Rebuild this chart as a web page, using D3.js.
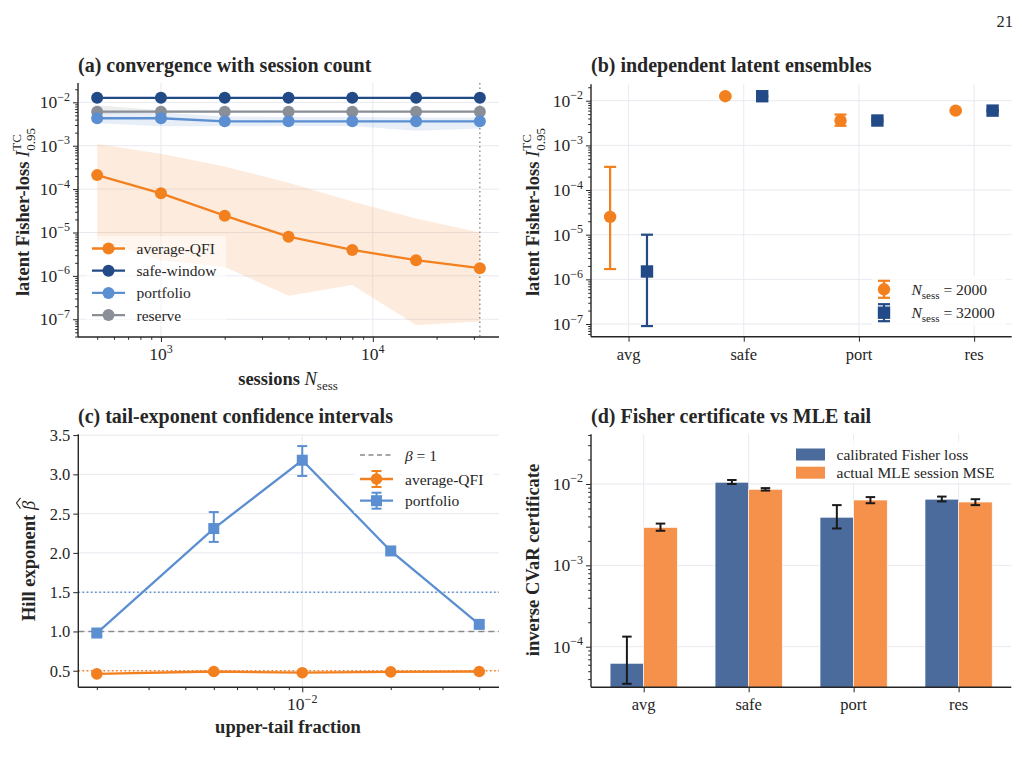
<!DOCTYPE html>
<html><head><meta charset="utf-8">
<script src="https://cdn.jsdelivr.net/npm/d3@7"></script>
<style>
body{margin:0;background:#fff}
svg{display:block}
text{font-family:"Liberation Serif","Times New Roman",serif;fill:#262626}
</style>
</head><body><svg id="chart" width="1022" height="771"></svg>
<script>
// ---------------- data ----------------
// (a) convergence with session count
const sessions = [500, 1000, 2000, 4000, 8000, 16000, 32000];
const avgQFI   = [2.1e-4, 8.0e-5, 2.44e-5, 8.0e-6, 3.95e-6, 2.3e-6, 1.5e-6];
const avgQFIHi = [1.1e-3, 6.5e-4, 3.3e-4, 1.4e-4, 5.2e-5, 2.1e-5, 1.0e-5];
const avgQFILo = [6.8e-6, 2.3e-6, 1.6e-6, 3.5e-7, 6.2e-7, 7.4e-8, 8.9e-8];
const safeWindow = [0.0127, 0.0127, 0.0127, 0.0127, 0.0127, 0.0127, 0.0127];
const portfolio  = [4.3e-3, 4.3e-3, 3.65e-3, 3.65e-3, 3.65e-3, 3.65e-3, 3.65e-3];
const portfolioHi = [6.0e-3, 5.8e-3, 4.7e-3, 4.6e-3, 4.6e-3, 4.5e-3, 4.5e-3];
const portfolioLo = [3.3e-3, 2.8e-3, 2.8e-3, 2.85e-3, 2.85e-3, 2.2e-3, 2.5e-3];
const reserve    = [6.1e-3, 6.1e-3, 6.1e-3, 6.1e-3, 6.1e-3, 6.1e-3, 6.1e-3];
const reserveHi  = [8.6e-3, 6.6e-3, 6.4e-3, 6.4e-3, 6.4e-3, 6.4e-3, 6.4e-3];
const reserveLo  = [5.3e-3, 5.7e-3, 5.8e-3, 5.8e-3, 5.8e-3, 5.8e-3, 5.8e-3];
const seriesNamesA = ["average-QFI", "safe-window", "portfolio", "reserve"];

// (b) independent latent ensembles
const ensembleCats = ["avg", "safe", "port", "res"];
const ens2000   = [2.5e-5, 0.0126, 3.6e-3, 6.0e-3];
const ens2000Lo = [1.7e-6, 0.0121, 2.75e-3, 5.7e-3];
const ens2000Hi = [3.3e-4, 0.0131, 4.9e-3, 6.3e-3];
const ens32000   = [1.5e-6, 0.0126, 3.6e-3, 6.0e-3];
const ens32000Lo = [9.0e-8, 0.0123, 3.4e-3, 5.8e-3];
const ens32000Hi = [1.0e-5, 0.0129, 3.8e-3, 6.2e-3];

// (c) tail-exponent confidence intervals
const tailFractions = [0.002, 0.005, 0.01, 0.02, 0.04];
const hillAvg   = [0.46, 0.49, 0.475, 0.485, 0.49];
const hillAvgLo = [0.44, 0.47, 0.455, 0.47, 0.475];
const hillAvgHi = [0.48, 0.51, 0.495, 0.50, 0.505];
const hillPort   = [0.98, 2.31, 3.18, 2.025, 1.09];
const hillPortLo = [0.94, 2.14, 2.98, 1.99, 1.05];
const hillPortHi = [1.02, 2.52, 3.36, 2.06, 1.13];
const hillTicks = [0.5, 1.0, 1.5, 2.0, 2.5, 3.0, 3.5];

// (d) Fisher certificate vs MLE tail
const certCats = ["avg", "safe", "port", "res"];
const fisherLoss = [6.25e-5, 0.0105, 3.9e-3, 6.5e-3];
const fisherLo   = [3.5e-5, 0.0100, 2.84e-3, 6.1e-3];
const fisherHi   = [1.33e-4, 0.0112, 5.5e-3, 7.0e-3];
const mleMSE = [2.92e-3, 8.6e-3, 6.35e-3, 6.0e-3];
const mleLo  = [2.66e-3, 8.3e-3, 5.8e-3, 5.5e-3];
const mleHi  = [3.26e-3, 8.9e-3, 6.9e-3, 6.5e-3];

// ---------------- style ----------------
const C = {
  orange: "#f3801f", dark: "#214a86", light: "#5b8fd1", grey: "#8a8e96",
  barBlue: "#4a6b9b", barOrange: "#f5914a", ink: "#262626", grid: "#e9e9f0"
};
const FS = { title: 20, label: 18.5, tick: 16.5, ten: 17.5, sup: 12, legend: 15.5 };
const svg = d3.select("#chart");
svg.append("rect").attr("width", 1022).attr("height", 771).attr("fill", "#fff");

svg.append("text").attr("x", 1013).attr("y", 27).attr("text-anchor", "end")
  .attr("font-size", 16.5).text("21");

// ---------------- helpers ----------------
function logMinors(scale) {
  const [lo, hi] = scale.domain().slice().sort((a, b) => a - b);
  const out = [];
  for (let e = Math.floor(Math.log10(lo)); e <= Math.ceil(Math.log10(hi)); e++)
    for (let m = 2; m <= 9; m++) { const v = m * Math.pow(10, e); if (v >= lo && v <= hi) out.push(v); }
  return out;
}
function sup10(sel, e) {
  sel.append("tspan").attr("font-size", FS.ten).text("10");
  sel.append("tspan").attr("dy", -7.5).attr("font-size", FS.sup).text(e < 0 ? "\u2212" + (-e) : String(e));
}
function styleAxis(g) {
  g.select(".domain").remove();
  g.selectAll(".tick line").attr("stroke", C.ink).attr("stroke-width", 1);
}
function spines(g, x0, x1, y0, y1) {
  g.append("line").attr("x1", x0).attr("x2", x0).attr("y1", y0).attr("y2", y1).attr("stroke", C.ink).attr("stroke-width", 1.4);
  g.append("line").attr("x1", x0).attr("x2", x1).attr("y1", y1).attr("y2", y1).attr("stroke", C.ink).attr("stroke-width", 1.4);
}
function title(x, y, t) {
  svg.append("text").attr("x", x).attr("y", y).attr("font-size", FS.title).attr("font-weight", "bold").text(t);
}
function logLeftAxis(g, y, x0, exps) {
  styleAxis(g.append("g").attr("transform", `translate(${x0},0)`)
    .call(d3.axisLeft(y).tickValues(logMinors(y)).tickSize(2.8).tickFormat("")));
  styleAxis(g.append("g").attr("transform", `translate(${x0},0)`)
    .call(d3.axisLeft(y).tickValues(exps.map(e => Math.pow(10, e))).tickSize(5).tickFormat("")));
  exps.forEach(e => {
    const t = g.append("text").attr("x", x0 - 8).attr("y", y(Math.pow(10, e)) + 6)
      .attr("text-anchor", "end");
    sup10(t, e);
  });
}
function gridH(g, y, vals, x0, x1) {
  g.selectAll(null).data(vals).enter().append("line")
    .attr("x1", x0).attr("x2", x1).attr("y1", d => y(d)).attr("y2", d => y(d))
    .attr("stroke", C.grid).attr("stroke-width", 1);
}
function gridV(g, x, vals, y0, y1) {
  g.selectAll(null).data(vals).enter().append("line")
    .attr("x1", d => x(d)).attr("x2", d => x(d)).attr("y1", y0).attr("y2", y1)
    .attr("stroke", C.grid).attr("stroke-width", 1);
}
function ylabelFisher(x, yc) {
  const t = svg.append("text").attr("transform", `translate(${x},${yc}) rotate(-90)`)
    .attr("text-anchor", "middle").attr("font-size", FS.label).attr("font-weight", "bold");
  t.append("tspan").text("latent Fisher-loss ");
  t.append("tspan").attr("font-style", "italic").attr("font-weight", "normal").text("I");
  t.append("tspan").attr("font-size", 13).attr("font-weight", "normal").attr("dy", -8.5).text("TC");
  t.append("tspan").attr("font-size", 13).attr("font-weight", "normal").attr("dx", -16.5).attr("dy", 14).text("0.95");
}
function errBar(g, x, yLo, yHi, cap, color, w) {
  g.append("line").attr("x1", x).attr("x2", x).attr("y1", yLo).attr("y2", yHi).attr("stroke", color).attr("stroke-width", w);
  [yLo, yHi].forEach(yy => g.append("line").attr("x1", x - cap / 2).attr("x2", x + cap / 2)
    .attr("y1", yy).attr("y2", yy).attr("stroke", color).attr("stroke-width", w));
}

// ================= Panel (a) =================
{
  const L = 78, R = 499, T = 83, B = 337;
  const x = d3.scaleLog().domain([406, 39400]).range([L, R]);
  const y = d3.scaleLog().domain([3.9e-8, 0.0279]).range([B, T]);
  const g = svg.append("g");
  title(78, 72, "(a) convergence with session count");
  gridH(g, y, [1e-7, 1e-6, 1e-5, 1e-4, 1e-3, 1e-2], L, R);
  gridV(g, x, [1e3, 1e4], T, B);

  const area = (hi, lo) => d3.area().x((d, i) => x(sessions[i])).y0((d, i) => y(lo[i])).y1((d, i) => y(hi[i]));
  g.append("path").datum(sessions).attr("d", area(avgQFIHi, avgQFILo)).attr("fill", C.orange).attr("opacity", 0.15);
  g.append("path").datum(sessions).attr("d", area(portfolioHi, portfolioLo)).attr("fill", C.light).attr("opacity", 0.15);
  g.append("path").datum(sessions).attr("d", area(reserveHi, reserveLo)).attr("fill", C.grey).attr("opacity", 0.15);

  g.append("line").attr("x1", x(32000)).attr("x2", x(32000)).attr("y1", T).attr("y2", B)
    .attr("stroke", "#777").attr("stroke-width", 1.2).attr("stroke-dasharray", "1.5,3");

  const series = [[avgQFI, C.orange], [safeWindow, C.dark], [portfolio, C.light], [reserve, C.grey]];
  const line = vals => d3.line().x((d, i) => x(sessions[i])).y((d, i) => y(vals[i]));
  [series[1], series[3], series[2], series[0]].forEach(([vals, col]) => {
    g.append("path").datum(sessions).attr("d", line(vals)).attr("fill", "none").attr("stroke", col).attr("stroke-width", 2.3);
    g.selectAll(null).data(vals).enter().append("circle")
      .attr("cx", (d, i) => x(sessions[i])).attr("cy", d => y(d)).attr("r", 6).attr("fill", col);
  });

  styleAxis(g.append("g").attr("transform", `translate(0,${B})`).call(d3.axisBottom(x).tickValues(logMinors(x)).tickSize(2.8).tickFormat("")));
  styleAxis(g.append("g").attr("transform", `translate(0,${B})`).call(d3.axisBottom(x).tickValues([1e3, 1e4]).tickSize(5).tickFormat("")));
  [3, 4].forEach(e => {
    const t = g.append("text").attr("x", x(Math.pow(10, e))).attr("y", B + 23).attr("text-anchor", "middle");
    sup10(t, e);
  });
  logLeftAxis(g, y, L, [-7, -6, -5, -4, -3, -2]);
  spines(g, L, R, T, B);

  // legend
  g.append("rect").attr("x", 86).attr("y", 236).attr("width", 140).attr("height", 90).attr("fill", "#fff").attr("opacity", 0.5);
  series.forEach(([vals, col], i) => {
    const yy = 248.5 + i * 22.2;
    g.append("line").attr("x1", 92).attr("x2", 125).attr("y1", yy).attr("y2", yy).attr("stroke", col).attr("stroke-width", 2.3);
    g.append("circle").attr("cx", 108.5).attr("cy", yy).attr("r", 6).attr("fill", col);
    g.append("text").attr("x", 136.5).attr("y", yy + 5.5).attr("font-size", FS.legend).text(seriesNamesA[i]);
  });

  const xl = svg.append("text").attr("x", 288).attr("y", 385).attr("text-anchor", "middle").attr("font-size", FS.label).attr("font-weight", "bold");
  xl.append("tspan").text("sessions ");
  xl.append("tspan").attr("font-style", "italic").attr("font-weight", "normal").text("N");
  xl.append("tspan").attr("font-size", 13).attr("font-weight", "normal").attr("dy", 4.5).text("sess");
  ylabelFisher(29, 212);
}

// ================= Panel (b) =================
{
  const L = 591, R = 1011.7, T = 84.3, B = 336.7;
  const x = d3.scaleLinear().domain([-0.326, 3.326]).range([L, R]);
  const y = d3.scaleLog().domain([5.2e-8, 0.0233]).range([B, T]);
  const g = svg.append("g");
  title(591, 72, "(b) independent latent ensembles");
  gridH(g, y, [1e-7, 1e-6, 1e-5, 1e-4, 1e-3, 1e-2], L, R);
  gridV(g, x, d3.range(ensembleCats.length), T, B);
  const off = 0.16;
  ensembleCats.forEach((c, i) => {
    const xo = x(i - off);
    errBar(g, xo, y(ens2000Lo[i]), y(ens2000Hi[i]), 12, C.orange, 2.2);
    g.append("circle").attr("cx", xo).attr("cy", y(ens2000[i])).attr("r", 6.2).attr("fill", C.orange);
    const xb = x(i + off);
    errBar(g, xb, y(ens32000Lo[i]), y(ens32000Hi[i]), 12, C.dark, 2.2);
    g.append("rect").attr("x", xb - 6.2).attr("y", y(ens32000[i]) - 6.2).attr("width", 12.4).attr("height", 12.4).attr("fill", C.dark);
  });
  styleAxis(g.append("g").attr("transform", `translate(0,${B})`).call(d3.axisBottom(x).tickValues(d3.range(4)).tickSize(5).tickFormat("")));
  ensembleCats.forEach((c, i) => g.append("text").attr("x", x(i)).attr("y", B + 23).attr("text-anchor", "middle").attr("font-size", FS.tick).text(c));
  logLeftAxis(g, y, L, [-7, -6, -5, -4, -3, -2]);
  spines(g, L, R, T, B);

  // legend
  g.append("rect").attr("x", 872).attr("y", 276).attr("width", 134).attr("height", 50).attr("fill", "#fff").attr("opacity", 0.8);
  [[289.3, C.orange, "2000", "c"], [312.7, C.dark, "32000", "s"]].forEach(([yy, col, n, m]) => {
    errBar(g, 884, yy - 8.5, yy + 8.5, 12, col, 2.2);
    if (m === "c") g.append("circle").attr("cx", 884).attr("cy", yy).attr("r", 6.2).attr("fill", col);
    else g.append("rect").attr("x", 877.8).attr("y", yy - 6.2).attr("width", 12.4).attr("height", 12.4).attr("fill", col);
    const t = g.append("text").attr("x", 911.5).attr("y", yy + 5.5).attr("font-size", FS.legend);
    t.append("tspan").attr("font-style", "italic").text("N");
    t.append("tspan").attr("font-size", 11).attr("dy", 4).text("sess");
    t.append("tspan").attr("dy", -4).text(" = " + n);
  });
  ylabelFisher(539, 212);
}

// ================= Panel (c) =================
{
  const L = 78.3, R = 499, T = 434.3, B = 687.3;
  const x = d3.scaleLog().domain([1.73e-3, 0.0467]).range([L, R]);
  const y = d3.scaleLinear().domain([0.289, 3.51]).range([B, T]);
  const g = svg.append("g");
  title(78, 423, "(c) tail-exponent confidence intervals");
  gridH(g, y, hillTicks, L, R);
  gridV(g, x, [0.01], T, B);

  g.append("line").attr("x1", L).attr("x2", R).attr("y1", y(1.5)).attr("y2", y(1.5))
    .attr("stroke", C.light).attr("stroke-width", 1.6).attr("stroke-dasharray", "1.6,2.6");
  g.append("line").attr("x1", L).attr("x2", R).attr("y1", y(0.5)).attr("y2", y(0.5))
    .attr("stroke", C.orange).attr("stroke-width", 1.6).attr("stroke-dasharray", "1.6,2.6");
  g.append("line").attr("x1", L).attr("x2", R).attr("y1", y(1.0)).attr("y2", y(1.0))
    .attr("stroke", "#8a8a8a").attr("stroke-width", 1.6).attr("stroke-dasharray", "6,4");

  const line = vals => d3.line().x((d, i) => x(tailFractions[i])).y((d, i) => y(vals[i]));
  g.append("path").datum(tailFractions).attr("d", line(hillAvg)).attr("fill", "none").attr("stroke", C.orange).attr("stroke-width", 2.3);
  tailFractions.forEach((f, i) => {
    errBar(g, x(f), y(hillAvgLo[i]), y(hillAvgHi[i]), 10, C.orange, 2);
    g.append("circle").attr("cx", x(f)).attr("cy", y(hillAvg[i])).attr("r", 5.8).attr("fill", C.orange);
  });
  g.append("path").datum(tailFractions).attr("d", line(hillPort)).attr("fill", "none").attr("stroke", C.light).attr("stroke-width", 2.3);
  tailFractions.forEach((f, i) => {
    errBar(g, x(f), y(hillPortLo[i]), y(hillPortHi[i]), 10, C.light, 2);
    g.append("rect").attr("x", x(f) - 5.5).attr("y", y(hillPort[i]) - 5.5).attr("width", 11).attr("height", 11).attr("fill", C.light);
  });

  styleAxis(g.append("g").attr("transform", `translate(0,${B})`).call(d3.axisBottom(x).tickValues(logMinors(x)).tickSize(2.8).tickFormat("")));
  styleAxis(g.append("g").attr("transform", `translate(0,${B})`).call(d3.axisBottom(x).tickValues([0.01]).tickSize(5).tickFormat("")));
  const t = g.append("text").attr("x", x(0.01)).attr("y", B + 23).attr("text-anchor", "middle");
  sup10(t, -2);
  styleAxis(g.append("g").attr("transform", `translate(${L},0)`).call(d3.axisLeft(y).tickValues(hillTicks).tickSize(5).tickFormat("")));
  hillTicks.forEach(v => g.append("text").attr("x", L - 8).attr("y", y(v) + 6).attr("text-anchor", "end").attr("font-size", FS.tick).text(d3.format(".1f")(v)));
  spines(g, L, R, T, B);

  // legend
  g.append("rect").attr("x", 354).attr("y", 443).attr("width", 140).attr("height", 70).attr("fill", "#fff").attr("opacity", 0.8);
  g.append("line").attr("x1", 360).attr("x2", 393).attr("y1", 455).attr("y2", 455).attr("stroke", "#8a8a8a").attr("stroke-width", 1.6).attr("stroke-dasharray", "5,3.5");
  const bl = g.append("text").attr("x", 405).attr("y", 460.5).attr("font-size", FS.legend);
  bl.append("tspan").attr("font-style", "italic").text("\u03b2");
  bl.append("tspan").text(" = 1");
  [[479, C.orange, "average-QFI", "c"], [500.7, C.light, "portfolio", "s"]].forEach(([yy, col, name, m]) => {
    g.append("line").attr("x1", 360).attr("x2", 393).attr("y1", yy).attr("y2", yy).attr("stroke", col).attr("stroke-width", 2.3);
    errBar(g, 376.5, yy - 8, yy + 8, 10, col, 2);
    if (m === "c") g.append("circle").attr("cx", 376.5).attr("cy", yy).attr("r", 5.8).attr("fill", col);
    else g.append("rect").attr("x", 371).attr("y", yy - 5.5).attr("width", 11).attr("height", 11).attr("fill", col);
    g.append("text").attr("x", 405).attr("y", yy + 5.5).attr("font-size", FS.legend).text(name);
  });

  svg.append("text").attr("x", 288).attr("y", 733).attr("text-anchor", "middle").attr("font-size", FS.label).attr("font-weight", "bold").text("upper-tail fraction");

  // y label with hat over beta
  const gl = svg.append("g").attr("transform", "translate(35,561) rotate(-90)");
  const yl = gl.append("text").attr("font-size", FS.label).attr("font-weight", "bold");
  const pre = "Hill exponent ";
  yl.append("tspan").text(pre);
  yl.append("tspan").attr("font-style", "italic").attr("font-weight", "normal").text("\u03b2");
  const total = yl.node().getComputedTextLength();
  yl.attr("x", -total / 2);
  const s0 = yl.node().getStartPositionOfChar(pre.length).x;
  const s1 = yl.node().getEndPositionOfChar(pre.length).x;
  gl.append("path").attr("d", `M${s0 + 1.5},-14.5 L${(s0 + s1) / 2 + 2.5},-18.5 L${s1 + 3},-14.5`)
    .attr("fill", "none").attr("stroke", C.ink).attr("stroke-width", 1.1);
}

// ================= Panel (d) =================
{
  const L = 591, R = 1011.3, T = 434.3, B = 687.3;
  const x = d3.scaleLinear().domain([-0.502, 3.502]).range([L, R]);
  const y = d3.scaleLog().domain([3.17e-5, 0.0408]).range([B, T]);
  const g = svg.append("g");
  title(591, 423, "(d) Fisher certificate vs MLE tail");
  gridH(g, y, [1e-4, 1e-3, 1e-2], L, R);
  gridV(g, x, d3.range(certCats.length), T, B);
  const w = 0.32;
  certCats.forEach((c, i) => {
    g.append("rect").attr("x", x(i - w)).attr("y", y(fisherLoss[i])).attr("width", x(i) - x(i - w)).attr("height", B - y(fisherLoss[i]))
      .attr("fill", C.barBlue).attr("stroke", "#fff").attr("stroke-width", 0.6);
    g.append("rect").attr("x", x(i)).attr("y", y(mleMSE[i])).attr("width", x(i + w) - x(i)).attr("height", B - y(mleMSE[i]))
      .attr("fill", C.barOrange).attr("stroke", "#fff").attr("stroke-width", 0.6);
  });
  certCats.forEach((c, i) => {
    errBar(g, x(i - w / 2), y(fisherLo[i]), y(fisherHi[i]), 9.5, "#1a1a1a", 2);
    errBar(g, x(i + w / 2), y(mleLo[i]), y(mleHi[i]), 9.5, "#1a1a1a", 2);
  });
  styleAxis(g.append("g").attr("transform", `translate(0,${B})`).call(d3.axisBottom(x).tickValues(d3.range(4)).tickSize(5).tickFormat("")));
  certCats.forEach((c, i) => g.append("text").attr("x", x(i)).attr("y", B + 23).attr("text-anchor", "middle").attr("font-size", FS.tick).text(c));
  logLeftAxis(g, y, L, [-4, -3, -2]);
  spines(g, L, R, T, B);

  g.append("rect").attr("x", 790).attr("y", 441).attr("width", 212).attr("height", 42).attr("fill", "#fff").attr("opacity", 0.8);
  [[454.5, C.barBlue, "calibrated Fisher loss"], [472.7, C.barOrange, "actual MLE session MSE"]].forEach(([yy, col, name]) => {
    g.append("rect").attr("x", 796).attr("y", yy - 6).attr("width", 29).attr("height", 12).attr("fill", col);
    g.append("text").attr("x", 836.5).attr("y", yy + 5.5).attr("font-size", FS.legend).text(name);
  });
  svg.append("text").attr("transform", "translate(539,560) rotate(-90)").attr("text-anchor", "middle")
    .attr("font-size", FS.label).attr("font-weight", "bold").text("inverse CVaR certificate");
}
</script></body></html>
